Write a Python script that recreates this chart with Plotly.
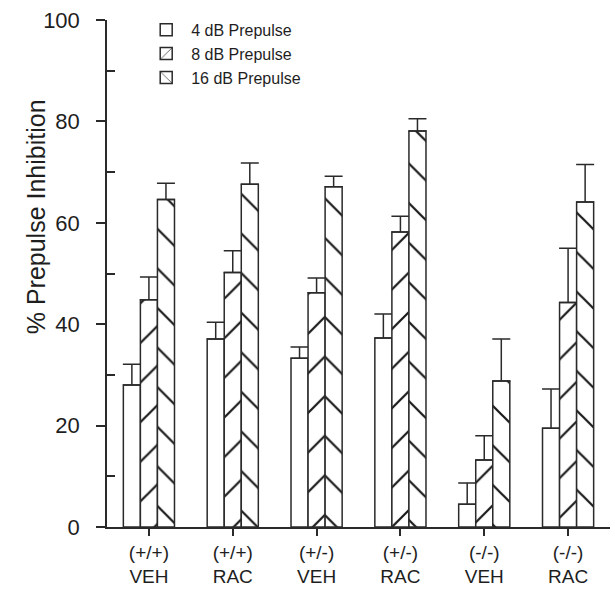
import plotly.graph_objects as go

groups = ["(+/+)<br>VEH", "(+/+)<br>RAC", "(+/-)<br>VEH", "(+/-)<br>RAC", "(-/-)<br>VEH", "(-/-)<br>RAC"]
series_names = ["4 dB Prepulse", "8 dB Prepulse", "16 dB Prepulse"]
pp4 = [28.0, 37.1, 33.3, 37.3, 4.5, 19.5]
pp4_err = [4.1, 3.3, 2.2, 4.7, 4.2, 7.7]
pp8 = [44.8, 50.2, 46.2, 58.2, 13.2, 44.3]
pp8_err = [4.5, 4.3, 2.9, 3.1, 4.8, 10.7]
pp16 = [64.6, 67.6, 67.1, 78.1, 28.8, 64.1]
pp16_err = [3.2, 4.2, 2.1, 2.4, 8.3, 7.4]
patterns = ["", "/", "\\"]
y_title = "% Prepulse Inhibition"

FONT = "Liberation Sans, Arial, sans-serif"
INK = "#1e1e1e"
AX = "#2a2a2a"

fig = go.Figure()
for name, vals, errs, pat in zip(series_names, [pp4, pp8, pp16], [pp4_err, pp8_err, pp16_err], patterns):
    fig.add_trace(go.Bar(
        x=groups, y=vals, name=name,
        marker=dict(color="white", line=dict(color=AX, width=1.5),
                    pattern=dict(shape=pat, fgcolor="#1a1a1a", fgopacity=1, bgcolor="white",
                                 size=28, solidity=0.08)),
        error_y=dict(type="data", array=errs, arrayminus=[0] * len(errs), symmetric=False,
                     color=AX, thickness=1.5, width=9),
    ))

fig.update_layout(
    width=615, height=601,
    margin=dict(l=107, r=5, t=20, b=74),
    paper_bgcolor="white", plot_bgcolor="white",
    barmode="group", bargap=0.39, bargroupgap=0,
    font=dict(family=FONT, color=INK),
    showlegend=True,
    legend=dict(x=0.068, y=1.014, xanchor="left", yanchor="top", bgcolor="rgba(0,0,0,0)",
                font=dict(size=16, color=INK), itemwidth=40, tracegroupgap=0),
    annotations=[dict(text=y_title, xref="paper", yref="paper", x=-0.142, y=0.612,
                      xanchor="center", yanchor="middle", textangle=-90, showarrow=False,
                      font=dict(size=25, color=INK))],
)
fig.update_xaxes(
    range=[-0.5, 5.5], showline=True, linecolor=AX, linewidth=1.5,
    ticks="outside", ticklen=7, tickcolor=AX, tickwidth=1.5,
    tickfont=dict(size=19, color=INK), showgrid=False, zeroline=False,
)
fig.update_yaxes(
    range=[0, 100], tickvals=[0, 20, 40, 60, 80, 100], showline=True, linecolor=AX, linewidth=1.5,
    ticks="outside", ticklen=9, tickcolor=AX, tickwidth=1.5, ticklabelstandoff=12,
    minor=dict(ticks="inside", tickvals=[10, 30, 50, 70, 90], ticklen=8, tickcolor=AX, tickwidth=1.5),
    tickfont=dict(size=22, color=INK), showgrid=False, zeroline=False,
)

fig.write_html("out.html")
